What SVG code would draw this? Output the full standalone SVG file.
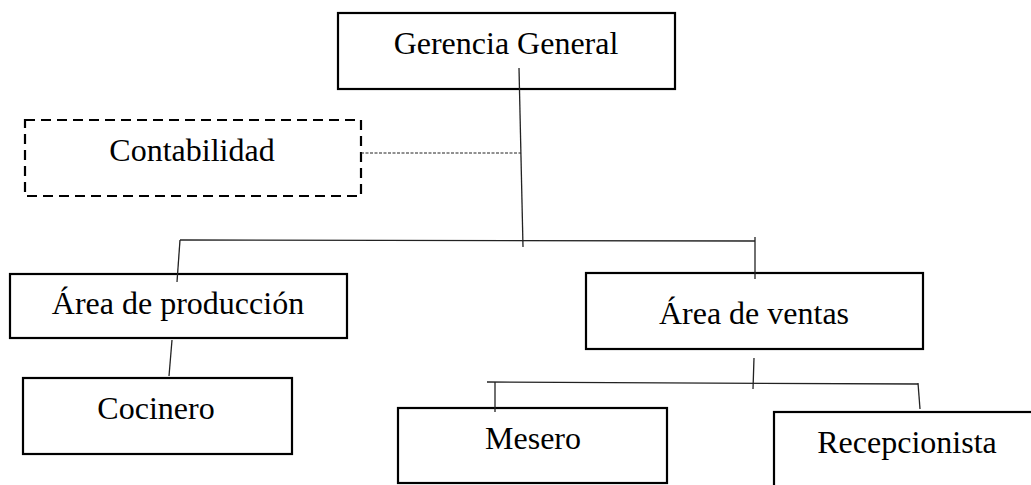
<svg xmlns="http://www.w3.org/2000/svg" width="1031" height="485" viewBox="0 0 1031 485">
<style>
.box{fill:#fff;stroke:#000;stroke-width:2.2}
.dbox{fill:#fff;stroke:#000;stroke-width:2.2;stroke-dasharray:10 6}
.t{font-family:"Liberation Serif","Times New Roman",serif;font-size:32px;fill:#000;text-anchor:middle}
.c{stroke:#222;stroke-width:1.3;fill:none}
.d{stroke:#222;stroke-width:1;fill:none;stroke-dasharray:3 1.5}
</style>
<rect width="1031" height="485" fill="#fff"/>
<g id="n-gerencia"><rect class="box" x="338" y="13" width="337" height="76"/><text class="t" x="506" y="54">Gerencia General</text></g>
<g id="n-contabilidad"><rect class="dbox" x="25" y="120" width="336" height="76"/><text class="t" x="192" y="161">Contabilidad</text></g>
<g id="n-produccion"><rect class="box" x="10" y="274" width="337" height="64"/><text class="t" x="178" y="314">Área de producción</text></g>
<g id="n-ventas"><rect class="box" x="586" y="273" width="337" height="76"/><text class="t" x="754" y="324">Área de ventas</text></g>
<g id="n-cocinero"><rect class="box" x="23" y="378" width="269" height="76"/><text class="t" x="156" y="419">Cocinero</text></g>
<g id="n-mesero"><rect class="box" x="398" y="408" width="269" height="75"/><text class="t" x="533" y="449">Mesero</text></g>
<g id="n-recepcionista"><rect class="box" x="774" y="412" width="280" height="90"/><text class="t" x="907" y="453">Recepcionista</text></g>
<g id="connectors">
<line class="c" x1="519" y1="68" x2="523" y2="247"/>
<line class="c" x1="180" y1="240" x2="755" y2="241"/>
<line class="c" x1="180" y1="240" x2="177" y2="282"/>
<line class="c" x1="755" y1="237" x2="755" y2="279"/>
<line class="d" x1="361" y1="153" x2="521" y2="153"/>
<line class="c" x1="172" y1="340" x2="169" y2="376"/>
<line class="c" x1="754" y1="358" x2="753" y2="389"/>
<line class="c" x1="487" y1="382" x2="918" y2="384"/>
<line class="c" x1="495" y1="382" x2="495" y2="412"/>
<line class="c" x1="918" y1="383" x2="920" y2="409"/>
</g>
</svg>
